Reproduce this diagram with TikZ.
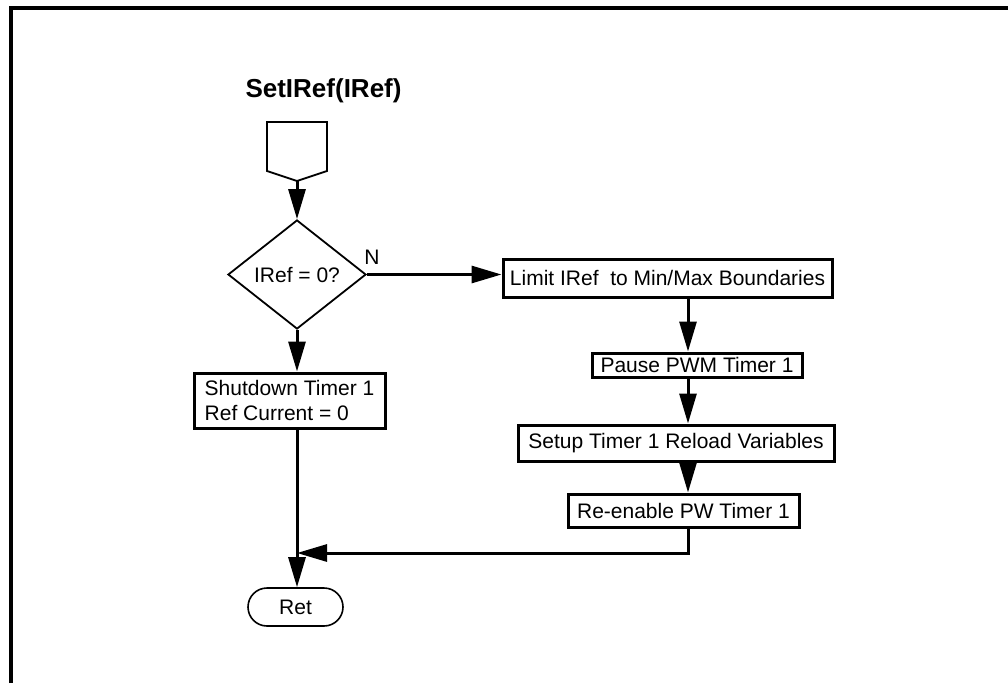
\documentclass[tikz,border=0pt]{standalone}
\usepackage{fontspec}
\setmainfont{Liberation Sans}
\usetikzlibrary{arrows.meta,shapes.geometric}

\newcommand{\flowfont}{\fontsize{21}{25}\selectfont}

\begin{document}
\begin{tikzpicture}[>={Triangle[length=30pt,width=17pt]},x=1pt,y=-1pt,
    process/.style={draw,line width=3pt,inner sep=0pt,font=\flowfont},
    decision/.style={draw,diamond,line width=1.8pt,inner sep=0pt,
      minimum width=138pt,minimum height=109pt,font=\flowfont},
    terminal/.style={draw,rounded corners=19pt,line width=1.6pt,
      minimum width=95pt,minimum height=38pt,font=\flowfont},
    link/.style={->,line width=3pt}]
  \useasboundingbox (0,0) rectangle (1008,683);
  % frame
  \draw[line width=3.5pt] (11,683) -- (11,8) -- (1008,8);

  \node[anchor=base west,font=\bfseries\fontsize{26}{30}\selectfont] (title) at (242,97) {SetIRef(IRef)};

  % entry connector
  \draw[line width=1.8pt] (267,122) -- (327,122) -- (327,171) -- (297,181) -- (267,171) -- cycle;
  \coordinate (entry) at (297,181);

  \node[decision] (dec) at (297,274.5) {IRef = 0?};
  \node[font=\flowfont] (no) at (372,257) {N};
  \node[process,minimum width=191pt,minimum height=55pt,align=left] (shut) at (289.5,400.5)
    {Shutdown Timer 1\\Ref Current = 0};
  \node[terminal] (ret) at (295.5,607) {Ret};

  \node[process,minimum width=329pt,minimum height=38pt] (limit) at (667.5,278)
    {Limit IRef\ \ to Min/Max Boundaries};
  \node[process,minimum width=210pt,minimum height=24pt] (pause) at (697,365) {Pause PWM Timer 1};
  \node[process,minimum width=316pt,minimum height=36pt] (setup) at (676,443)
    {Setup Timer 1 Reload Variables};
  \node[process,minimum width=231pt,minimum height=33pt] (reen) at (683.5,510.5) {Re-enable PW Timer 1};

  \coordinate (rcol) at (688,0);
  \coordinate (merge) at (297,553);

  \path[link]
    (entry) edge (dec.north)
    (dec.east) edge (limit.west |- dec.east)
    (dec.south) edge (shut.north -| dec)
    (shut.south -| dec) edge (ret.north -| dec)

    (limit.south -| rcol) edge (pause.north -| rcol)
    (pause.south -| rcol) edge (setup.north -| rcol)
    (setup.south -| rcol) edge (reen.north -| rcol)
    ;
  \draw[link] (reen.south -| rcol) |- (merge);
\end{tikzpicture}
\end{document}
